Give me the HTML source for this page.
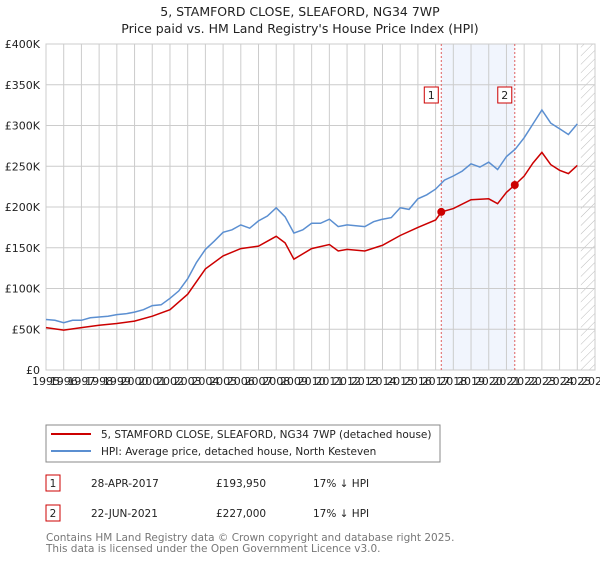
<!DOCTYPE html>
<html><head><meta charset="utf-8"><style>
body{margin:0;background:#fff;font-family:"Liberation Sans","DejaVu Sans",sans-serif;}
svg text{font-family:"DejaVu Sans","Liberation Sans",sans-serif;}
</style></head><body>
<svg id="chart" width="600" height="560" xmlns="http://www.w3.org/2000/svg">
<defs><pattern id="hatch" width="6" height="6" patternUnits="userSpaceOnUse" patternTransform="rotate(45)"><line x1="0" y1="0" x2="0" y2="6" stroke="#bbb" stroke-width="1"/></pattern></defs>
<text x="300" y="16" text-anchor="middle" font-size="12.5" fill="#222">5, STAMFORD CLOSE, SLEAFORD, NG34 7WP</text>
<text x="300" y="33" text-anchor="middle" font-size="12.5" fill="#222">Price paid vs. HM Land Registry's House Price Index (HPI)</text>
<g id="grid"></g><g id="series"></g><g id="axes"></g>
<rect x="46" y="425" width="394" height="37" fill="#fff" stroke="#888"/>
<line x1="51" y1="434" x2="91" y2="434" stroke="#cc0000" stroke-width="2"/>
<text x="101" y="438" font-size="10.5" fill="#222">5, STAMFORD CLOSE, SLEAFORD, NG34 7WP (detached house)</text>
<line x1="51" y1="451" x2="91" y2="451" stroke="#5b8fd1" stroke-width="2"/>
<text x="101" y="455" font-size="10.5" fill="#222">HPI: Average price, detached house, North Kesteven</text>
<g font-size="10.5" fill="#222">
<rect x="46" y="475" width="14" height="16" fill="#fff" stroke="#cc0000"/><text x="53" y="487" text-anchor="middle">1</text>
<text x="91" y="487">28-APR-2017</text><text x="216" y="487">£193,950</text><text x="313" y="487">17% ↓ HPI</text></g>
<g font-size="10.5" fill="#222">
<rect x="46" y="505" width="14" height="16" fill="#fff" stroke="#cc0000"/><text x="53" y="517" text-anchor="middle">2</text>
<text x="91" y="517">22-JUN-2021</text><text x="216" y="517">£227,000</text><text x="313" y="517">17% ↓ HPI</text></g>
<text x="46" y="541" font-size="10.5" fill="#777">Contains HM Land Registry data © Crown copyright and database right 2025.</text>
<text x="46" y="552" font-size="10.5" fill="#777">This data is licensed under the Open Government Licence v3.0.</text>
</svg>
<script>
const hpiYears=[1995,1995.5,1996,1996.5,1997,1997.5,1998,1998.5,1999,1999.5,2000,2000.5,2001,2001.5,2002,2002.5,2003,2003.5,2004,2004.5,2005,2005.5,2006,2006.5,2007,2007.5,2008,2008.5,2009,2009.5,2010,2010.5,2011,2011.5,2012,2012.5,2013,2013.5,2014,2014.5,2015,2015.5,2016,2016.5,2017,2017.5,2018,2018.5,2019,2019.5,2020,2020.5,2021,2021.5,2022,2022.5,2023,2023.5,2024,2024.5,2025];
const hpiValues=[62,61,58,61,61,64,65,66,68,69,71,74,79,80,88,97,112,132,148,158,169,172,178,174,183,189,199,188,168,172,180,180,185,176,178,177,176,182,185,187,199,197,210,215,222,233,238,244,253,249,255,246,262,271,285,302,319,303,296,289,302];
const priceYears=[1995,1996,1997,1998,1999,2000,2001,2002,2003,2004,2005,2006,2007,2008,2008.5,2009,2010,2011,2011.5,2012,2013,2014,2015,2016,2017,2017.33,2018,2019,2020,2020.5,2021,2021.47,2022,2022.5,2023,2023.5,2024,2024.5,2025];
const priceValues=[52,49,52,55,57,60,66,74,93,124,140,149,152,164,156,136,149,154,146,148,146,153,165,175,184,194,198,209,210,204,218,227,238,254,267,252,245,241,251];
const saleDates=[2017.32,2021.47];
const salePrices=[193.95,227];
const saleLabels=["1","2"];
const yTicks=[0,50,100,150,200,250,300,350,400];
const yTickLabels=["£0","£50K","£100K","£150K","£200K","£250K","£300K","£350K","£400K"];
const xTicks=[];for(let y=1995;y<=2026;y++)xTicks.push(y);
const X0=46,X1=595,Y0=370,Y1=44;
const xs=t=>X0+(t-1995)/31*(X1-X0);
const ys=v=>Y0-v/400*(Y0-Y1);
const NS="http://www.w3.org/2000/svg";
function mk(tag,attrs,parent){const e=document.createElementNS(NS,tag);for(const k in attrs)e.setAttribute(k,attrs[k]);parent.appendChild(e);return e;}
const grid=document.getElementById('grid'),series=document.getElementById('series'),axes=document.getElementById('axes');
const shade=mk('rect',{x:xs(saleDates[0]),y:Y1,width:xs(saleDates[1])-xs(saleDates[0]),height:Y0-Y1,fill:'#eef3fc',opacity:0.8},grid);


const hatch=mk('rect',{x:xs(2025.2),y:Y1,width:X1-xs(2025.2),height:Y0-Y1,fill:'url(#hatch)'},grid);


xTicks.forEach(t=>{
 mk('line',{x1:xs(t),y1:Y1,x2:xs(t),y2:Y0,stroke:'#ccc','stroke-width':1},grid);
 const lb=mk('text',{x:xs(t),y:Y0+15,'text-anchor':'middle','font-size':11,fill:'#222'},axes);
 lb.textContent=t;
 
 
});
yTicks.forEach((v,i)=>{
 mk('line',{x1:X0,y1:ys(v),x2:X1,y2:ys(v),stroke:'#ccc','stroke-width':1},grid);
 const lb=mk('text',{x:40,y:ys(v)+4,'text-anchor':'end','font-size':11,fill:'#222'},axes);
 lb.textContent=yTickLabels[i];
 
 
});
mk('rect',{x:X0,y:Y1,width:X1-X0,height:Y0-Y1,fill:'none',stroke:'#ccc'},grid);
saleDates.forEach((d,i)=>{
 const l=mk('line',{x1:xs(d),y1:Y1,x2:xs(d),y2:Y0,stroke:'#e06060','stroke-width':1,'stroke-dasharray':'2,2'},grid);
 
 
 const r=mk('rect',{x:xs(d)-17,y:87,width:14,height:16,fill:'#fff',stroke:'#cc0000'},axes);
 
 
 const tx=mk('text',{x:xs(d)-10,y:99,'text-anchor':'middle','font-size':11,fill:'#222'},axes);
 tx.textContent=saleLabels[i];
});
function path(xa,va){return xa.map((t,i)=>(i?'L':'M')+xs(t).toFixed(1)+','+ys(va[i]).toFixed(1)).join('');}
const hp=mk('path',{d:path(hpiYears,hpiValues),fill:'none',stroke:'#5b8fd1','stroke-width':1.5},series);


const pp=mk('path',{d:path(priceYears,priceValues),fill:'none',stroke:'#cc0000','stroke-width':1.5},series);


saleDates.forEach((d,i)=>{
 const c=mk('circle',{cx:xs(d),cy:ys(salePrices[i]),r:4,fill:'#cc0000'},series);
 
 
});
</script>
</body></html>
